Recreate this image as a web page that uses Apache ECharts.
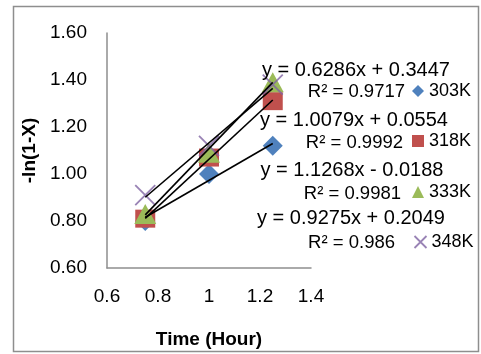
<!DOCTYPE html>
<html>
<head>
<meta charset="utf-8">
<script src="https://cdn.jsdelivr.net/npm/echarts@6/dist/echarts.min.js"></script>
<style>
  html, body { margin: 0; padding: 0; background: #fff; }
  #chart { width: 481px; height: 354px; }
</style>
</head>
<body>
<div id="chart"></div>
<script>
// time points (hour)
var times = [0.75, 1.0, 1.25]
// -ln(1-X) per temperature
var k303 = [0.80, 1.00, 1.12]
var k318 = [0.81, 1.07, 1.31]
var k333 = [0.83, 1.09, 1.39]
var k348 = [0.91, 1.12, 1.38]
// trendline end points (read from the equations)
var trendX = [0.75, 1.25]
var trend303 = [0.816, 1.130]
var trend318 = [0.811, 1.315]
var trend333 = [0.826, 1.390]
var trend348 = [0.901, 1.364]
var seriesNames = ['303K', '318K', '333K', '348K']
var eqLabels = ['y = 0.6286x + 0.3447', 'y = 1.0079x + 0.0554', 'y = 1.1268x - 0.0188', 'y = 0.9275x + 0.2049']
var r2Labels = ['R\u00b2 = 0.9717', 'R\u00b2 = 0.9992', 'R\u00b2 = 0.9981', 'R\u00b2 = 0.986']
var xTicks = [0.6, 0.8, 1, 1.2, 1.4]
var yTicks = [0.6, 0.8, 1.0, 1.2, 1.4, 1.6]

var font = 'Liberation Sans, Arial, sans-serif'
var colors = ['#4F81BD', '#C0504D', '#9BBB59', '#8064A2']
var symbols = ['diamond', 'rect', 'triangle', 'path://M0,0L10,10M10,0L0,10']
var symbolSizes = [20, [20, 18], [22, 20], 20]
var allValues = [k303, k318, k333, k348]
var allTrends = [trend303, trend318, trend333, trend348]

function pairs(xs, ys) {
  return xs.map(function (x, i) { return [x, ys[i]] })
}

var chart = echarts.init(document.getElementById('chart'))

var series = []
allValues.forEach(function (vals, i) {
  var isCross = i === 3
  series.push({
    name: seriesNames[i],
    type: 'scatter',
    data: pairs(times, vals),
    symbol: symbols[i],
    symbolSize: symbolSizes[i],
    z: 2 + i,
    itemStyle: isCross
      ? { color: 'none', borderColor: colors[i], borderWidth: 1.8 }
      : { color: colors[i], opacity: 1 },
    emphasis: { disabled: true }
  })
})
allTrends.forEach(function (t, i) {
  series.push({
    name: 'trend' + i,
    type: 'line',
    data: pairs(trendX, t),
    symbol: 'none',
    z: 10,
    lineStyle: { color: '#000', width: 1.6 },
    silent: true
  })
})

// legend rows: one legend component per entry (centre y of each row)
var legendY = [92, 142, 193, 243]
var legends = seriesNames.map(function (n, i) {
  return {
    data: [{ name: n, icon: symbols[i], itemStyle: i === 3 ? { color: 'none', borderColor: colors[i], borderWidth: 1.8 } : { color: colors[i] } }],
    left: 412,
    top: legendY[i] - 10,
    padding: 0,
    itemWidth: 12,
    itemHeight: 12,
    itemGap: 0,
    selectedMode: false,
    textStyle: { fontFamily: font, fontSize: 18, color: '#000' }
  }
})

var eqY = [70, 120, 170, 218]
var eqX = [356, 354, 352, 351]
var r2Y = [92, 143, 194, 243]
var r2Right = [405, 403, 401, 395]
var graphics = [{
  type: 'rect',
  shape: { x: 13.5, y: 6.5, width: 465, height: 345 },
  style: { fill: 'none', stroke: '#8e8e8e', lineWidth: 1.5 },
  silent: true
}]
eqLabels.forEach(function (t, i) {
  graphics.push({
    type: 'text', x: eqX[i], y: eqY[i], z: 20,
    style: { text: t, font: '20px ' + font, fill: '#000', align: 'center', verticalAlign: 'middle' }
  })
  graphics.push({
    type: 'text', x: r2Right[i], y: r2Y[i], z: 20,
    style: { text: r2Labels[i], font: '18.5px ' + font, fill: '#000', align: 'right', verticalAlign: 'middle' }
  })
})

var option = {
  animation: false,
  backgroundColor: '#fff',
  grid: { left: 107, top: 33, right: 170, bottom: 86, containLabel: false },
  legend: legends,
  xAxis: {
    type: 'value',
    min: 0.6,
    max: 1.4,
    interval: 0.2,
    name: 'Time (Hour)',
    nameLocation: 'middle',
    nameGap: 62,
    nameTextStyle: { fontFamily: font, fontSize: 19, fontWeight: 'bold', color: '#000' },
    axisLine: { show: true, onZero: false, lineStyle: { color: '#8e8e8e', width: 1.5 } },
    axisTick: { show: false },
    splitLine: { show: false },
    axisLabel: {
      margin: 19,
      fontFamily: font, fontSize: 19, color: '#000',
      formatter: function (v) {
        var hit = xTicks.filter(function (t) { return Math.abs(t - v) < 1e-6 })
        return hit.length ? String(hit[0]) : ''
      }
    }
  },
  yAxis: {
    type: 'value',
    min: 0.6,
    max: 1.6,
    interval: 0.2,
    name: '-ln(1-X)',
    nameLocation: 'middle',
    nameGap: 68,
    nameRotate: 90,
    nameTextStyle: { fontFamily: font, fontSize: 19, fontWeight: 'bold', color: '#000' },
    axisLine: { show: true, onZero: false, lineStyle: { color: '#8e8e8e', width: 1.5 } },
    axisTick: { show: false },
    splitLine: { show: false },
    axisLabel: {
      margin: 20,
      fontFamily: font, fontSize: 19, color: '#000',
      formatter: function (v) {
        var hit = yTicks.filter(function (t) { return Math.abs(t - v) < 1e-6 })
        return hit.length ? hit[0].toFixed(2) : ''
      }
    }
  },
  graphic: graphics,
  series: series
}

chart.setOption(option)
</script>
</body>
</html>
